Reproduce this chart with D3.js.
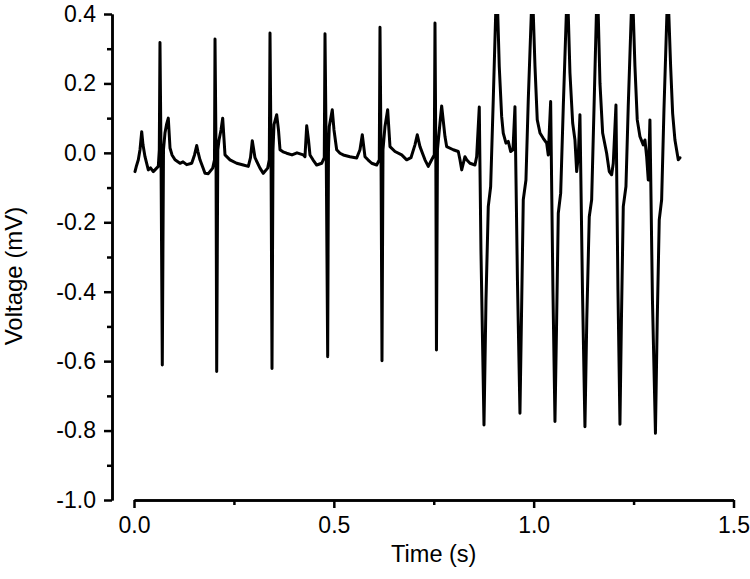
<!DOCTYPE html>
<html>
<head>
<meta charset="utf-8">
<script src="https://cdn.jsdelivr.net/npm/d3@7"></script>
<style>
  body { margin: 0; background: #fff; }
  svg text { font-family: Arial, "Liberation Sans", sans-serif; fill: #000; }
</style>
</head>
<body>
<script>
// tid (s) och spänning (mV)
var time = [
  0.0025, 0.0063, 0.0108, 0.0150, 0.0193, 0.0225, 0.0275, 0.0358, 0.0413, 0.0483,
  0.0608, 0.0633, 0.0650, 0.0675, 0.0708, 0.0738, 0.0776, 0.0813, 0.0858, 0.0901,
  0.0951, 0.1026, 0.1151, 0.1226, 0.1318, 0.1444, 0.1514, 0.1569, 0.1601, 0.1651,
  0.1726, 0.1776, 0.1859, 0.1969, 0.2014, 0.2027, 0.2052, 0.2069, 0.2097, 0.2127,
  0.2177, 0.2219, 0.2277, 0.2402, 0.2569, 0.2735, 0.2860, 0.2915, 0.2960, 0.3027,
  0.3152, 0.3235, 0.3345, 0.3385, 0.3403, 0.3428, 0.3453, 0.3478, 0.3503, 0.3570,
  0.3615, 0.3653, 0.3728, 0.3820, 0.3953, 0.4078, 0.4236, 0.4278, 0.4321, 0.4366,
  0.4403, 0.4478, 0.4571, 0.4696, 0.4761, 0.4779, 0.4809, 0.4846, 0.4866, 0.4886,
  0.4961, 0.5004, 0.5071, 0.5154, 0.5236, 0.5404, 0.5572, 0.5654, 0.5712, 0.5779,
  0.5854, 0.5947, 0.6072, 0.6137, 0.6155, 0.6180, 0.6205, 0.6230, 0.6280, 0.6347,
  0.6405, 0.6530, 0.6698, 0.6823, 0.6930, 0.7030, 0.7088, 0.7155, 0.7280, 0.7363,
  0.7448, 0.7513, 0.7531, 0.7551, 0.7568, 0.7593, 0.7656, 0.7698, 0.7781, 0.7823,
  0.7988, 0.8114, 0.8156, 0.8199, 0.8281, 0.8324, 0.8406, 0.8531, 0.8574, 0.8639,
  0.8681, 0.8757, 0.8807, 0.8864, 0.8924, 0.8989, 0.9057, 0.9094, 0.9139, 0.9199,
  0.9239, 0.9307, 0.9364, 0.9424, 0.9482, 0.9532, 0.9594, 0.9657, 0.9694, 0.9740,
  0.9807, 0.9865, 0.9950, 0.9982, 1.0033, 1.0090, 1.0158, 1.0240, 1.0325, 1.0365,
  1.0425, 1.0482, 1.0533, 1.0575, 1.0616, 1.0676, 1.0741, 1.0826, 1.0858, 1.0908,
  1.0976, 1.1033, 1.1076, 1.1116, 1.1158, 1.1221, 1.1283, 1.1329, 1.1391, 1.1451,
  1.1509, 1.1576, 1.1609, 1.1659, 1.1726, 1.1826, 1.1892, 1.1951, 1.1992, 1.2059,
  1.2109, 1.2159, 1.2196, 1.2242, 1.2309, 1.2366, 1.2451, 1.2484, 1.2534, 1.2592,
  1.2659, 1.2742, 1.2784, 1.2827, 1.2867, 1.2909, 1.2972, 1.3047, 1.3092, 1.3142,
  1.3202, 1.3260, 1.3342, 1.3372, 1.3427, 1.3477, 1.3535, 1.3618, 1.3660
];
var voltage = [
  -0.054, -0.037, -0.020, 0.009, 0.061, 0.023, -0.011, -0.049, -0.043, -0.054,
  -0.039, 0.009, 0.318, 0.009, -0.611, 0.009, 0.058, 0.081, 0.100, 0.014,
  -0.006, -0.020, -0.030, -0.026, -0.034, -0.030, -0.006, 0.021, 0.003, -0.020,
  -0.043, -0.059, -0.060, -0.044, -0.020, 0.328, 0.009, -0.630, 0.009, 0.037,
  0.066, 0.100, -0.006, -0.020, -0.030, -0.035, -0.039, -0.014, 0.035, -0.014,
  -0.044, -0.059, -0.044, -0.020, 0.345, 0.009, -0.621, 0.009, 0.081, 0.110,
  0.066, 0.009, 0.003, -0.001, -0.006, 0.000, -0.006, -0.011, 0.078, 0.037,
  -0.006, -0.020, -0.035, -0.030, -0.014, 0.343, 0.009, -0.587, 0.009, 0.076,
  0.124, 0.066, 0.009, -0.001, -0.006, -0.011, -0.015, 0.009, 0.052, -0.011,
  -0.020, -0.030, -0.035, -0.020, 0.362, 0.009, -0.599, 0.009, 0.076, 0.124,
  0.018, 0.004, -0.006, -0.020, -0.014, 0.023, 0.052, 0.018, -0.020, -0.039,
  -0.020, -0.006, 0.374, 0.009, -0.568, 0.009, 0.086, 0.135, 0.047, 0.018,
  0.009, 0.004, -0.020, -0.049, -0.011, -0.020, -0.030, -0.035, -0.011, 0.132,
  -0.280, -0.784, -0.424, -0.155, -0.097, 0.153, 0.430, 0.430, 0.249, 0.105,
  0.057, 0.028, 0.033, 0.004, 0.009, 0.133, -0.366, -0.750, -0.481, -0.135,
  -0.078, 0.153, 0.430, 0.430, 0.249, 0.095, 0.057, 0.042, 0.028, -0.006,
  0.148, -0.395, -0.774, -0.481, -0.174, -0.116, 0.133, 0.430, 0.430, 0.230,
  0.086, 0.037, -0.054, -0.011, 0.110, -0.395, -0.789, -0.481, -0.184, -0.135,
  0.124, 0.430, 0.430, 0.200, 0.057, -0.001, -0.054, -0.063, -0.030, 0.138,
  -0.395, -0.782, -0.481, -0.155, -0.097, 0.133, 0.430, 0.430, 0.249, 0.095,
  0.047, 0.023, 0.037, -0.011, -0.078, 0.095, -0.424, -0.808, -0.481, -0.193,
  -0.135, 0.124, 0.430, 0.430, 0.249, 0.114, 0.037, -0.020, -0.014
];
var xTicks = [0, 0.5, 1.0, 1.5];
var xMinor = [0.25, 0.75, 1.25];
var yTicks = [-1.0, -0.8, -0.6, -0.4, -0.2, 0.0, 0.2, 0.4];
var yMinor = [-0.9, -0.7, -0.5, -0.3, -0.1, 0.1, 0.3];

function ecgChart()
{
    var width = 750, height = 579;
    var xLeft = 134, xRight = 733.5, yTop = 14, yBottom = 500;
    var yAxisX = 112;

    var points = time.map(function(t, i) { return [t, voltage[i]]; });

    var xScale = d3.scaleLinear().domain([0, 1.5]).range([xLeft, xRight]);
    var yScale = d3.scaleLinear().domain([-1.0, 0.4]).range([yBottom, yTop]);

    // vanligt bindestreck som minustecken
    var fmt = function(d) { return d.toFixed(1).replace("-0.0", "0.0"); };

    var svg = d3.select("body").append("svg")
        .attr("width", width)
        .attr("height", height);

    // kurvan klipps vid 0.4 som i originalet
    svg.append("clipPath").attr("id", "plotClip")
        .append("rect")
        .attr("x", xLeft - 5).attr("y", yTop)
        .attr("width", xRight - xLeft + 10).attr("height", yBottom - yTop);

    var line = d3.line()
        .x(function(d) { return xScale(d[0]); })
        .y(function(d) { return yScale(d[1]); });

    svg.append("path")
        .datum(points)
        .attr("clip-path", "url(#plotClip)")
        .attr("d", line)
        .attr("fill", "none")
        .attr("stroke", "#000")
        .attr("stroke-width", 3)
        .attr("stroke-linejoin", "round")
        .attr("stroke-linecap", "round");

    // Y-axel
    var yAxis = d3.axisLeft(yScale)
        .tickValues(yTicks)
        .tickSize(8).tickSizeOuter(0).tickPadding(8)
        .tickFormat(fmt);
    svg.append("g").attr("transform", "translate(" + yAxisX + ",0)").call(yAxis);
    svg.append("g").attr("transform", "translate(" + yAxisX + ",0)")
        .call(d3.axisLeft(yScale).tickValues(yMinor).tickSize(5).tickSizeOuter(0).tickFormat(""));

    // X-axel
    var xAxis = d3.axisBottom(xScale)
        .tickValues(xTicks)
        .tickSize(8).tickSizeOuter(0).tickPadding(9)
        .tickFormat(fmt);
    svg.append("g").attr("transform", "translate(0," + yBottom + ")").call(xAxis);
    svg.append("g").attr("transform", "translate(0," + yBottom + ")")
        .call(d3.axisBottom(xScale).tickValues(xMinor).tickSize(5).tickSizeOuter(0).tickFormat(""));

    svg.selectAll(".domain, .tick line")
        .attr("stroke", "#000")
        .attr("stroke-width", 2.5);
    svg.selectAll(".tick text")
        .style("font-size", "23px")
        .attr("fill", "#000");

    // Axeltitlar
    svg.append("text")
        .attr("x", (xLeft + xRight) / 2)
        .attr("y", 562)
        .attr("text-anchor", "middle")
        .style("font-size", "23.5px")
        .text("Time (s)");
    svg.append("text")
        .attr("transform", "translate(22,276) rotate(-90)")
        .attr("text-anchor", "middle")
        .style("font-size", "24px")
        .text("Voltage (mV)");
}

ecgChart();
</script>
</body>
</html>
